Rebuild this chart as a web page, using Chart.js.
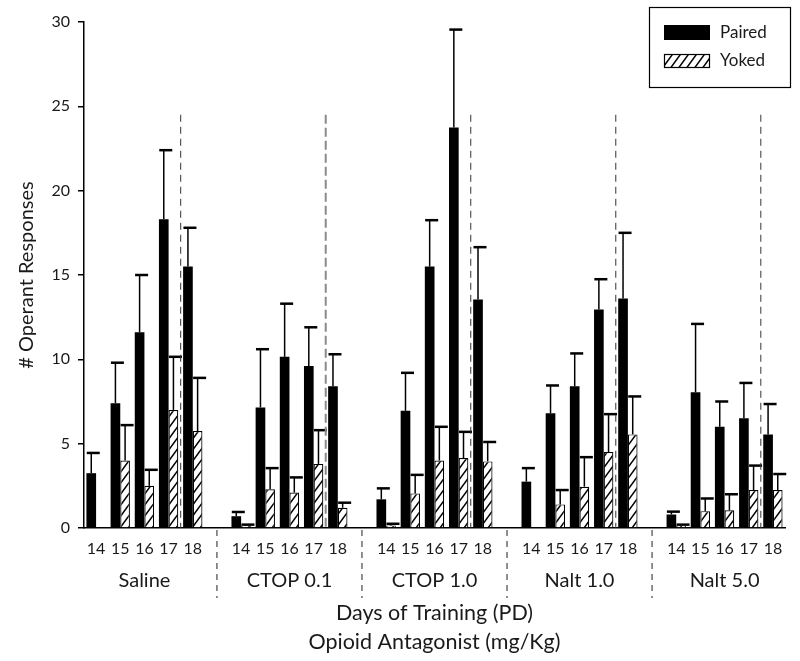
<!DOCTYPE html>
<html>
<head>
<meta charset="utf-8">
<script src="https://cdn.jsdelivr.net/npm/chart.js@4.4.1/dist/chart.umd.min.js"></script>
<style>
  html, body { margin: 0; padding: 0; background: #fff; }
  #wrap { width: 800px; height: 661px; position: relative; }
</style>
</head>
<body>
<div id="wrap"><canvas id="opChart"></canvas></div>
<script>
// Operant responses by antagonist group and training day

const groups = ['Saline', 'CTOP 0.1', 'CTOP 1.0', 'Nalt 1.0', 'Nalt 5.0'];
const days = ['14', '15', '16', '17', '18'];

// one row per group, days 14..18
const pairedMean = [
    [3.25, 7.4, 11.6, 18.3, 15.5],
    [0.7, 7.15, 10.15, 9.6, 8.4],
    [1.7, 6.95, 15.5, 23.75, 13.55],
    [2.75, 6.8, 8.4, 12.95, 13.6],
    [0.8, 8.05, 6.0, 6.5, 5.55]
];
const pairedSem = [
    [1.2, 2.4, 3.4, 4.1, 2.3],
    [0.25, 3.45, 3.15, 2.3, 1.9],
    [0.65, 2.25, 2.75, 5.8, 3.1],
    [0.8, 1.65, 1.95, 1.8, 3.9],
    [0.17, 4.05, 1.5, 2.1, 1.8]
];
const yokedMean = [
    [0, 4.0, 2.5, 7.0, 5.75],
    [0.15, 2.3, 2.1, 3.8, 1.2],
    [0.15, 2.05, 4.0, 4.15, 3.95],
    [0, 1.4, 2.45, 4.5, 5.55],
    [0.15, 1.0, 1.05, 2.25, 2.25]
];
const yokedSem = [
    [0, 2.1, 0.95, 3.15, 3.15],
    [0.05, 1.25, 0.9, 2.0, 0.3],
    [0.1, 1.1, 2.0, 1.55, 1.15],
    [0, 0.85, 1.75, 2.25, 2.25],
    [0.05, 0.75, 0.95, 1.45, 0.95]
];
const yTicks = [0, 5, 10, 15, 20, 25, 30];
const dashTopValue = 24.5; // where the day 17/18 divider starts

// flatten into slots, with an empty slot between groups
const labels = [];
const pairedSlots = [], pairedErrSlots = [], yokedSlots = [], yokedErrSlots = [];
const gapIndex = [];
const groupFirst = [];
groups.forEach(function (g, gi) {
    groupFirst.push(labels.length);
    days.forEach(function (d, di) {
        labels.push(d);
        pairedSlots.push(pairedMean[gi][di]);
        pairedErrSlots.push(pairedSem[gi][di]);
        yokedSlots.push(yokedMean[gi][di]);
        yokedErrSlots.push(yokedSem[gi][di]);
    });
    if (gi < groups.length - 1) {
        gapIndex.push(labels.length);
        labels.push('');
        pairedSlots.push(null); pairedErrSlots.push(null);
        yokedSlots.push(null); yokedErrSlots.push(null);
    }
});

const FONT = 'Lato, "Open Sans", sans-serif';
const INK = '#1a1a1a';

// hatch pattern for Yoked (steep forward slashes)
function makeHatch() {
    const c = document.createElement('canvas');
    c.width = 8; c.height = 11;
    const x = c.getContext('2d');
    x.fillStyle = '#fff';
    x.fillRect(0, 0, 8, 11);
    x.strokeStyle = '#000';
    x.lineWidth = 1.5;
    x.beginPath();
    x.moveTo(-0.7, 12); x.lineTo(8.7, -1);
    x.moveTo(-0.7, 1); x.lineTo(0.7, -1);
    x.moveTo(7.3, 12); x.lineTo(8.7, 10);
    x.stroke();
    return x.createPattern(c, 'repeat');
}
const hatch = makeHatch();

const errPlugin = {
    id: 'errBars',
    afterDatasetsDraw(chart) {
        const ctx = chart.ctx;
        const y = chart.scales.y;
        const errs = [pairedErrSlots, yokedErrSlots];
        ctx.save();
        ctx.strokeStyle = '#000';
        chart.data.datasets.forEach(function (ds, i) {
            const meta = chart.getDatasetMeta(i);
            meta.data.forEach(function (bar, j) {
                const v = ds.data[j];
                const e = errs[i][j];
                if (v === null || !e) return;
                const top = y.getPixelForValue(v + e);
                ctx.lineWidth = 1.5;
                ctx.beginPath();
                ctx.moveTo(bar.x, bar.y);
                ctx.lineTo(bar.x, top);
                ctx.stroke();
                ctx.lineWidth = 2.5;
                ctx.beginPath();
                ctx.moveTo(bar.x - 4.5, top);
                ctx.lineTo(bar.x + 8.5, top);
                ctx.stroke();
            });
        });
        ctx.restore();
    }
};

const decoPlugin = {
    id: 'deco',
    afterDraw(chart) {
        const ctx = chart.ctx;
        const xs = chart.scales.x, ys = chart.scales.y;
        const area = chart.chartArea;
        ctx.save();

        // day 17 / 18 dividers
        groupFirst.forEach(function (first, gi) {
            const xm = (xs.getPixelForValue(first + 3) + xs.getPixelForValue(first + 4)) / 2;
            ctx.beginPath();
            if (gi === 1) {
                ctx.strokeStyle = '#8a8a8a'; ctx.lineWidth = 2; ctx.setLineDash([9, 4]);
            } else {
                ctx.strokeStyle = '#333'; ctx.lineWidth = 1; ctx.setLineDash([7, 5]);
            }
            ctx.moveTo(xm, ys.getPixelForValue(dashTopValue));
            ctx.lineTo(xm, area.bottom);
            ctx.stroke();
        });

        // group separators under the axis
        ctx.strokeStyle = '#222'; ctx.lineWidth = 1; ctx.setLineDash([6, 5]);
        gapIndex.forEach(function (idx) {
            const xg = xs.getPixelForValue(idx);
            ctx.beginPath();
            ctx.moveTo(xg, area.bottom + 2);
            ctx.lineTo(xg, area.bottom + 70);
            ctx.stroke();
        });
        ctx.setLineDash([]);

        // group names
        ctx.fillStyle = INK;
        ctx.textAlign = 'center';
        ctx.textBaseline = 'middle';
        ctx.font = '20px ' + FONT;
        groupFirst.forEach(function (first, gi) {
            ctx.fillText(groups[gi], xs.getPixelForValue(first + 2), area.bottom + 53);
        });

        // axis titles
        const cx = (area.left + area.right) / 2;
        ctx.font = '21.5px ' + FONT;
        ctx.fillText('Days of Training (PD)', cx, area.bottom + 85);
        ctx.fillText('Opioid Antagonist (mg/Kg)', cx, area.bottom + 114);

        ctx.save();
        ctx.translate(27, (area.top + area.bottom) / 2);
        ctx.rotate(-Math.PI / 2);
        ctx.font = '20px ' + FONT;
        ctx.fillText('# Operant Responses', 0, 0);
        ctx.restore();

        // legend box
        ctx.strokeStyle = '#000'; ctx.lineWidth = 1.2;
        ctx.strokeRect(649.5, 7.5, 141, 80);
        ctx.fillStyle = '#000';
        ctx.fillRect(664, 25, 46, 15);
        ctx.fillStyle = hatch;
        ctx.fillRect(664, 54, 46, 14);
        ctx.strokeRect(664.5, 54.5, 45, 13);
        ctx.fillStyle = INK;
        ctx.textAlign = 'left';
        ctx.font = '17px ' + FONT;
        ctx.fillText('Paired', 720, 33);
        ctx.fillText('Yoked', 720, 61);

        ctx.restore();
    }
};

const ctx = document.getElementById('opChart').getContext('2d');
new Chart(ctx, {
    type: 'bar',
    data: {
        labels: labels,
        datasets: [
            {
                label: 'Paired',
                data: pairedSlots,
                backgroundColor: '#000',
                borderWidth: 0
            },
            {
                label: 'Yoked',
                data: yokedSlots,
                backgroundColor: hatch,
                borderColor: '#000',
                borderWidth: 1.2
            }
        ]
    },
    options: {
        responsive: true,
        maintainAspectRatio: false,
        animation: false,
        categoryPercentage: 0.8,
        barPercentage: 1.0,
        layout: { padding: { left: 0, right: 15, top: 22, bottom: 0 } },
        plugins: {
            legend: { display: false },
            tooltip: { enabled: false }
        },
        scales: {
            x: {
                grid: { display: false, drawTicks: false },
                border: { display: true, color: '#000', width: 1.5 },
                ticks: {
                    autoSkip: false,
                    maxRotation: 0,
                    padding: 11,
                    color: INK,
                    font: { family: FONT, size: 16 }
                },
                afterFit(scale) { scale.height = 133; }
            },
            y: {
                min: 0,
                max: 30,
                afterBuildTicks(scale) { scale.ticks = yTicks.map(v => ({ value: v })); },
                grid: { drawOnChartArea: false, drawTicks: true, tickLength: 6, color: '#000', lineWidth: 1.5 },
                border: { display: true, color: '#000', width: 1.5 },
                ticks: {
                    padding: 8,
                    color: INK,
                    font: { family: FONT, size: 16 }
                },
                afterFit(scale) { scale.width = 84; }
            }
        }
    },
    plugins: [errPlugin, decoPlugin]
});
</script>
</body>
</html>
